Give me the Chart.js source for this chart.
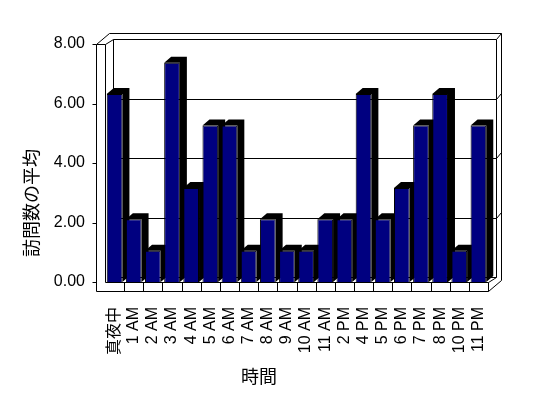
<!DOCTYPE html>
<html>
<head>
<meta charset="utf-8">
<script src="https://cdn.jsdelivr.net/npm/chart.js@4.4.0/dist/chart.umd.min.js"></script>
<style>
  html, body { margin: 0; padding: 0; background: #fff; }
  #wrap { width: 548px; height: 398px; }
</style>
</head>
<body>
<div id="wrap"><canvas id="visitsChart" width="548" height="398"></canvas></div>
<script>
// Data
const hours = ['真夜中', '1 AM', '2 AM', '3 AM', '4 AM', '5 AM', '6 AM', '7 AM', '8 AM', '9 AM',
               '10 AM', '11 AM', '2 PM', '4 PM', '5 PM', '6 PM', '7 PM', '8 PM', '10 PM', '11 PM'];
const avgVisits = [6.32, 2.11, 1.05, 7.37, 3.16, 5.26, 5.26, 1.05, 2.11, 1.05,
                   1.05, 2.11, 2.11, 6.32, 2.11, 3.16, 5.26, 6.32, 1.05, 5.26];
const yTickValues = [0, 2, 4, 6, 8];
const yAxisTitle = '訪問数の平均';
const xAxisTitle = '時間';

const FONT = "'Liberation Sans', Arial, 'Noto Sans CJK JP', sans-serif";

// 3D offsets (walls and bars)
const WALL_IN = { dx: 8, dy: -5 };
const WALL_OUT = { dx: 13, dy: -11 };
const WALL_THICK = 9;
const FLOOR_THICK = 9;
const BAR_DEPTH = { dx: 7, dy: -6 };

// snap to pixel centres so the 1px lines stay crisp
function px(v) {
    return Math.round(v) + 0.5;
}

function line(ctx, x1, y1, x2, y2) {
    ctx.beginPath();
    ctx.moveTo(px(x1), px(y1));
    ctx.lineTo(px(x2), px(y2));
    ctx.stroke();
}

/**
 * Draws the box walls, floor and back-wall gridlines, then the dark sides of the bars
 */
const box3d = {
    id: 'box3d',
    beforeDatasetsDraw(chart) {
        const ctx = chart.ctx;
        const a = chart.chartArea;
        const xs = chart.scales.x;
        const ys = chart.scales.y;
        const L = a.left, R = a.right, T = a.top, B = a.bottom;
        const OL = L - WALL_THICK;
        const FB = B + FLOOR_THICK;

        ctx.save();
        ctx.strokeStyle = '#000';
        ctx.lineWidth = 1;

        // gridlines on the back wall, plus the little slanted bits on its right edge
        yTickValues.forEach(v => {
            if (v === 0 || v === 8) return;
            const yy = ys.getPixelForValue(v) + WALL_IN.dy;
            line(ctx, L + WALL_IN.dx, yy, R + WALL_IN.dx, yy);
            line(ctx, R + WALL_IN.dx, yy, R + WALL_OUT.dx, yy + (WALL_OUT.dy - WALL_IN.dy));
        });

        // back wall
        line(ctx, L + WALL_IN.dx, T + WALL_IN.dy, L + WALL_IN.dx, B + WALL_IN.dy);
        line(ctx, L + WALL_IN.dx, T + WALL_IN.dy, R + WALL_IN.dx, T + WALL_IN.dy);
        line(ctx, R + WALL_IN.dx, T + WALL_IN.dy, R + WALL_IN.dx, B + WALL_IN.dy);
        line(ctx, OL + WALL_OUT.dx, T + WALL_OUT.dy, R + WALL_OUT.dx, T + WALL_OUT.dy);
        line(ctx, R + WALL_OUT.dx, T + WALL_OUT.dy, R + WALL_OUT.dx, FB + WALL_OUT.dy);
        line(ctx, R + WALL_IN.dx, T + WALL_IN.dy, R + WALL_OUT.dx, T + WALL_OUT.dy);

        // left wall
        line(ctx, OL, T, OL, FB);
        line(ctx, L, T, L, B);
        line(ctx, OL, T, L, T);
        line(ctx, OL, T, OL + WALL_OUT.dx, T + WALL_OUT.dy);
        line(ctx, L, T, L + WALL_IN.dx, T + WALL_IN.dy);

        // floor
        line(ctx, L + WALL_IN.dx, B + WALL_IN.dy, R + WALL_IN.dx, B + WALL_IN.dy);
        line(ctx, L, B, R, B);
        line(ctx, OL, FB, R, FB);
        line(ctx, R, B, R, FB);
        line(ctx, R, B, R + WALL_IN.dx, B + WALL_IN.dy);
        line(ctx, R, FB, R + WALL_OUT.dx, FB + WALL_OUT.dy);
        for (let i = 1; i < hours.length; i++) {
            const bx = (xs.getPixelForValue(i - 1) + xs.getPixelForValue(i)) / 2;
            line(ctx, bx, B, bx, FB);
        }

        // y tick marks
        yTickValues.forEach(v => {
            const yy = ys.getPixelForValue(v);
            line(ctx, OL - 4, yy, OL, yy);
        });

        // dark top and side of every bar
        ctx.fillStyle = '#000';
        chart.getDatasetMeta(0).data.forEach(bar => {
            const x1 = bar.x - bar.width / 2;
            const x2 = bar.x + bar.width / 2;
            const top = bar.y;
            const base = bar.base;
            ctx.beginPath();
            ctx.moveTo(x1, top);
            ctx.lineTo(x1 + BAR_DEPTH.dx, top + BAR_DEPTH.dy);
            ctx.lineTo(x2 + BAR_DEPTH.dx, top + BAR_DEPTH.dy);
            ctx.lineTo(x2 + BAR_DEPTH.dx, base + BAR_DEPTH.dy);
            ctx.lineTo(x2, base);
            ctx.lineTo(x2, top);
            ctx.closePath();
            ctx.fill();
        });
        ctx.restore();
    },
    afterDraw(chart) {
        // axis titles
        const ctx = chart.ctx;
        ctx.save();
        ctx.fillStyle = '#000';
        ctx.font = "18px 'Noto Sans CJK JP', sans-serif";
        ctx.textAlign = 'center';
        ctx.textBaseline = 'middle';
        ctx.fillText(xAxisTitle, 259, 376);
        ctx.translate(31, 203);
        ctx.rotate(-Math.PI / 2);
        ctx.fillText(yAxisTitle, 0, 0);
        ctx.restore();
    }
};

new Chart(document.getElementById('visitsChart'), {
    type: 'bar',
    data: {
        labels: hours,
        datasets: [{
            label: yAxisTitle,
            data: avgVisits,
            backgroundColor: '#000080',
            borderColor: '#000',
            borderWidth: 1,
            barPercentage: 0.82,
            categoryPercentage: 1
        }]
    },
    options: {
        responsive: false,
        devicePixelRatio: 1,
        animation: false,
        layout: {
            padding: { left: 0, right: 60, top: 44, bottom: 0 }
        },
        scales: {
            x: {
                grid: { display: false },
                border: { display: false },
                ticks: {
                    autoSkip: false,
                    minRotation: 90,
                    maxRotation: 90,
                    padding: 17,
                    color: '#000',
                    font: { family: FONT, size: 16 }
                },
                afterFit(scale) { scale.height = 116; }
            },
            y: {
                min: 0,
                max: 8,
                grid: { display: false, drawTicks: false },
                border: { display: false },
                ticks: {
                    stepSize: 2,
                    padding: 20,
                    color: '#000',
                    font: { family: FONT, size: 16 },
                    callback: v => v.toFixed(2)
                },
                afterFit(scale) { scale.width = 105; }
            }
        },
        plugins: {
            legend: { display: false },
            tooltip: { enabled: false }
        }
    },
    plugins: [box3d]
});
</script>
</body>
</html>
